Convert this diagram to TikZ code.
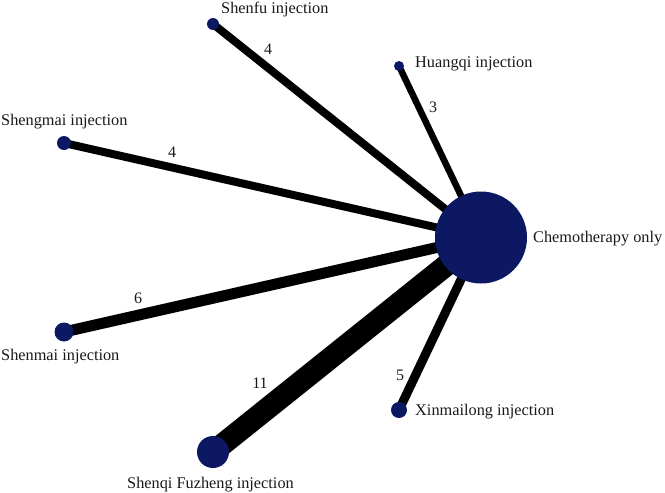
\documentclass[tikz,border=0pt]{standalone}
\usepackage{fontspec}
\setmainfont{Liberation Serif}
\definecolor{navy}{RGB}{12,24,98}
\pgfdeclarelayer{bg}
\pgfsetlayers{bg,main}
\begin{document}
\begin{tikzpicture}[x=1pt,y=-1pt,
  dot/.style={circle,fill=navy,inner sep=0pt,minimum size=#1},
  lbl/.style={font=\fontsize{16.3}{19}\selectfont,inner sep=0pt,text=black!90},
  num/.style={font=\fontsize{16}{19}\selectfont,inner sep=0pt,text=black!90},
  edge/.style={line width=#1,black}]
\useasboundingbox (0,0) rectangle (665,493);
\node[dot=92pt] (c) at (481,237.5) {};
\node[dot=12pt] (sf) at (213,24) {};
\node[dot=10pt] (hq) at (399,66) {};
\node[dot=14pt] (sg) at (64,143) {};
\node[dot=19pt] (sm) at (64,332) {};
\node[dot=32pt] (sq) at (213,452) {};
\node[dot=16pt] (xm) at (399,410) {};
\node[lbl,anchor=base west] (lc) at (533,242) {Chemotherapy only};
\node[lbl,anchor=base west] (lsf) at (221,13) {Shenfu injection};
\node[lbl,anchor=base west] (lhq) at (415,67) {Huangqi injection};
\node[lbl,anchor=base west] (lsg) at (1,125) {Shengmai injection};
\node[lbl,anchor=base west] (lsm) at (1,360) {Shenmai injection};
\node[lbl,anchor=base west] (lsq) at (127,488) {Shenqi Fuzheng injection};
\node[lbl,anchor=base west] (lxm) at (415,415) {Xinmailong injection};
\node[num] (n1) at (268,49) {4};
\node[num] (n2) at (433,107) {3};
\node[num] (n3) at (172,152) {4};
\node[num] (n4) at (138,298) {6};
\node[num] (n5) at (260,383) {11};
\node[num] (n6) at (400,375) {5};
\begin{pgfonlayer}{bg}
\draw[edge=8pt] (c.center) -- (sf.center);
\draw[edge=6.5pt] (c.center) -- (hq.center);
\draw[edge=8pt] (c.center) -- (sg.center);
\draw[edge=11pt] (c.center) -- (sm.center);
\draw[edge=22pt] (c.center) -- (sq.center);
\draw[edge=9pt] (c.center) -- (xm.center);
\end{pgfonlayer}
\end{tikzpicture}
\end{document}
